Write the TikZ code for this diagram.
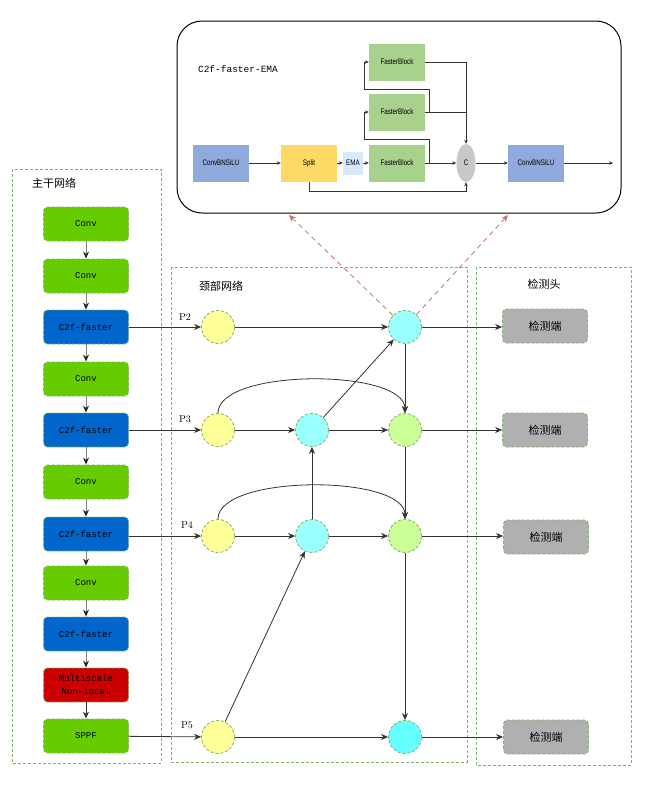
\documentclass[tikz,border=0pt]{standalone}
\usepackage{fontspec}
\newfontfamily\cjk{Noto Sans CJK SC}
\newfontfamily\monof{Liberation Mono}
\newfontfamily\narrowf{Liberation Sans}[FakeStretch=0.78]
\usetikzlibrary{arrows.meta,shapes.geometric}
\definecolor{bordergreen}{HTML}{82B366}
\definecolor{convgreen}{HTML}{66CC00}
\definecolor{c2fblue}{HTML}{0066CC}
\definecolor{nlred}{HTML}{CC0000}
\definecolor{detgray}{HTML}{B0B0B0}
\definecolor{inyellow}{HTML}{FFFF99}
\definecolor{midcyan}{HTML}{99FFFF}
\definecolor{outgreen}{HTML}{CCFF99}
\definecolor{lowcyan}{HTML}{66FFFF}
\definecolor{cbsblue}{HTML}{8FAADC}
\definecolor{splityellow}{HTML}{FFD966}
\definecolor{fbgreen}{HTML}{A9D18E}
\definecolor{emablue}{HTML}{DAE8FC}
\definecolor{catgray}{HTML}{C8C8C8}
\definecolor{linkred}{HTML}{C8706C}

\begin{document}
\begin{tikzpicture}[x=1pt,y=-1pt,
  arr/.style={draw=black!80, line width=0.8pt, -{Stealth[length=7pt,width=6pt]}},
  grayarr/.style={draw=black!50, line width=0.9pt, -{Stealth[length=7pt,width=6pt,color=black!85]}},
  thinarr/.style={draw=black!80, line width=0.6pt, -{Stealth[length=4pt,width=3.5pt]}},
  frame/.style={draw=bordergreen, line width=0.8pt, dash pattern=on 3pt off 2pt},
  blk/.style={draw=bordergreen, line width=0.8pt, dash pattern=on 3pt off 2pt,
    rounded corners=4pt, minimum width=85pt, minimum height=34pt, align=center,
    font=\monof\fontsize{9}{13}\selectfont},
  circ/.style={circle, draw=bordergreen, line width=0.8pt, dash pattern=on 3pt off 2pt,
    minimum size=33pt, inner sep=0pt},
  detbox/.style={blk, fill=detgray, font=\cjk\fontsize{11}{12}\selectfont},
  sub/.style={minimum width=56pt, minimum height=37pt, inner sep=0pt,
    font=\narrowf\fontsize{8}{9}\selectfont},
  plabel/.style={font=\fontsize{10}{11}\selectfont},
  title/.style={font=\cjk\fontsize{11}{12}\selectfont}]
\useasboundingbox (0,0) rectangle (657,785);

% C2f-faster-EMA detail
\draw[line width=1pt, rounded corners=25pt] (177,21) rectangle (621,213);
\node[font=\monof\fontsize{9.5}{10}\selectfont] (emat) at (238,69) {C2f-faster-EMA};
\node[sub, fill=cbsblue] (cbs1) at (221,163) {ConvBNSiLU};
\node[sub, fill=splityellow] (split) at (309,163) {Split};
\node[sub, fill=emablue, minimum width=20pt, minimum height=23pt] (ema) at (353,163) {EMA};
\node[sub, fill=fbgreen] (fb1) at (397,163) {FasterBlock};
\node[sub, fill=fbgreen] (fb2) at (397,112) {FasterBlock};
\node[sub, fill=fbgreen] (fb3) at (397,62) {FasterBlock};
\node[ellipse, fill=catgray, minimum width=19pt, minimum height=38pt, inner sep=0pt,
  font=\narrowf\fontsize{8}{9}\selectfont] (cat) at (466,163) {C};
\node[sub, fill=cbsblue] (cbs2) at (536,163) {ConvBNSiLU};
\coordinate (out) at (613,163);
\coordinate (b1) at (429,163);
\coordinate (b1l) at (364,139);
\coordinate (b2) at (429,112);
\coordinate (b2l) at (364,89);

\draw[thinarr] (cbs1) -- (split);
\draw[thinarr] (split) -- (ema);
\draw[thinarr] (ema) -- (fb1);
\draw[thinarr] (fb1) -- (cat);
\draw[thinarr] (b1) |- (b1l) |- (fb2.west);
\draw[thinarr] (b2) |- (b2l) |- (fb3.west);
\draw[thinarr] (fb3.east) -| (cat.north);
\draw[draw=black!80, line width=0.6pt] (fb2.east) -- (cat.north |- fb2);
\draw[thinarr] (split.south) -- ++(0,10) -| (cat.south);
\draw[thinarr] (cat) -- (cbs2);
\draw[thinarr] (cbs2) -- (out);

% backbone
\draw[frame] (12,169) rectangle (161,763);
\node[title] (bbt) at (54,183) {主干网络};
\node[blk, fill=convgreen] (conv1) at (86,224) {Conv};
\node[blk, fill=convgreen] (conv2) at (86,276) {Conv};
\node[blk, fill=c2fblue] (c2f1) at (86,327) {C2f-faster};
\node[blk, fill=convgreen] (conv3) at (86,379) {Conv};
\node[blk, fill=c2fblue] (c2f2) at (86,430) {C2f-faster};
\node[blk, fill=convgreen] (conv4) at (86,482) {Conv};
\node[blk, fill=c2fblue] (c2f3) at (86,534) {C2f-faster};
\node[blk, fill=convgreen] (conv5) at (86,583) {Conv};
\node[blk, fill=c2fblue] (c2f4) at (86,634) {C2f-faster};
\node[blk, fill=nlred] (msnl) at (86,685) {Multiscale\\Non-local};
\node[blk, fill=convgreen] (sppf) at (86,736) {SPPF};

\draw[grayarr] (conv1) -- (conv2);
\draw[grayarr] (conv2) -- (c2f1);
\draw[grayarr] (c2f1) -- (conv3);
\draw[grayarr] (conv3) -- (c2f2);
\draw[grayarr] (c2f2) -- (conv4);
\draw[grayarr] (conv4) -- (c2f3);
\draw[grayarr] (c2f3) -- (conv5);
\draw[grayarr] (conv5) -- (c2f4);
\draw[grayarr] (c2f4) -- (msnl);
\draw[arr] (msnl) -- (sppf);

% neck
\draw[frame] (171,267) rectangle (467,762);
\node[title] (neckt) at (221,286) {颈部网络};
\node[circ, fill=inyellow] (p2in) at (218,327) {};
\node[circ, fill=inyellow] (p3in) at (218,430) {};
\node[circ, fill=inyellow] (p4in) at (218,536) {};
\node[circ, fill=inyellow] (p5in) at (218,737) {};
\node[circ, fill=midcyan] (m3) at (312,430) {};
\node[circ, fill=midcyan] (m4) at (312,536) {};
\node[circ, fill=midcyan] (o2) at (405,327) {};
\node[circ, fill=outgreen] (o3) at (405,430) {};
\node[circ, fill=outgreen] (o4) at (405,536) {};
\node[circ, fill=lowcyan] (o5) at (405,737) {};

\node[plabel] (lp2) at (185,317) {P2};
\node[plabel] (lp3) at (185,419) {P3};
\node[plabel] (lp4) at (187,525) {P4};
\node[plabel] (lp5) at (187,725) {P5};

\draw[arr] (c2f1) -- (p2in);
\draw[arr] (c2f2) -- (p3in);
\draw[arr] (c2f3.east |- p4in) -- (p4in);
\draw[arr] (sppf) -- (p5in);

\draw[arr] (p2in) -- (o2);
\draw[arr] (p3in) -- (m3);
\draw[arr] (m3) -- (o3);
\draw[arr] (m3) -- (o2);
\draw[arr] (o2) -- (o3);
\draw[arr] (p3in.north) .. controls +(0,-45) and +(0,-45) .. (o3.north);
\draw[arr] (p4in) -- (m4);
\draw[arr] (m4) -- (o4);
\draw[arr] (m4) -- (m3);
\draw[arr] (o3) -- (o4);
\draw[arr] (p4in.north) .. controls +(0,-45) and +(0,-45) .. (o4.north);
\draw[arr] (p5in) -- (m4);
\draw[arr] (p5in) -- (o5);
\draw[arr] (o4) -- (o5);

% links to detail
\coordinate (tl) at (289,215);
\coordinate (tr) at (508,215);
\draw[draw=linkred, line width=0.8pt, dash pattern=on 5pt off 4pt,
  -{Stealth[length=7pt,width=6pt]}] (o2) -- (tl);
\draw[draw=linkred, line width=0.8pt, dash pattern=on 5pt off 4pt,
  -{Stealth[length=7pt,width=6pt]}] (o2) -- (tr);

% head
\draw[frame] (476,267) rectangle (631,765);
\node[title] (headt) at (544,284) {检测头};
\node[detbox] (det1) at (545,326) {检测端};
\node[detbox] (det2) at (545,430) {检测端};
\node[detbox] (det3) at (546,537) {检测端};
\node[detbox] (det4) at (546,737) {检测端};

\draw[arr] (o2) -- (det1.west |- o2);
\draw[arr] (o3) -- (det2.west |- o3);
\draw[arr] (o4) -- (det3.west |- o4);
\draw[arr] (o5) -- (det4.west |- o5);
\end{tikzpicture}
\end{document}
